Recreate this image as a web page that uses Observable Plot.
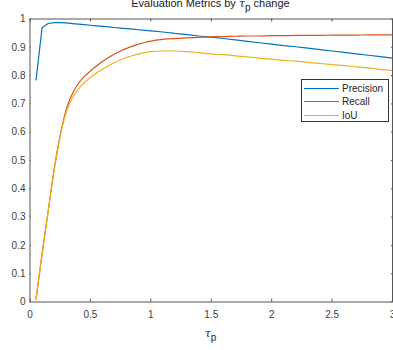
<!DOCTYPE html>
<html>
<head>
<meta charset="utf-8">
<script src="https://cdn.jsdelivr.net/npm/d3@7"></script>
<script src="https://cdn.jsdelivr.net/npm/@observablehq/plot@0.6"></script>
<style>
  html, body { margin: 0; padding: 0; background: #fff; }
  #wrap { position: relative; width: 393px; height: 350px; overflow: hidden; font-family: "Liberation Sans", Arial, Helvetica, sans-serif; }
  #title { position: absolute; left: 0; width: 421px; top: -3px; text-align: center; font-size: 11px; color: #1a1a1a; white-space: nowrap; }
  #xlabel { position: absolute; left: 0; width: 421px; top: 327px; text-align: center; font-size: 11px; color: #262626; }
  .tau { font-family: "DejaVu Serif", "Liberation Serif", serif; font-style: italic; }
  sub { font-size: 10px; vertical-align: -4px; line-height: 0; }
  #legend { position: absolute; left: 301px; top: 79px; width: 86px; height: 41px; border: 1px solid #333; background: #fff; font-size: 10px; color: #262626; }
  .row { position: absolute; left: 2px; height: 12px; display: flex; align-items: center; }
  .sw { width: 35px; height: 0; border-top: 1.2px solid; margin-right: 3px; }
</style>
</head>
<body>
<div id="wrap">
  <div id="chart"></div>
  <div id="title">Evaluation Metrics by <span class="tau">τ</span><sub>p</sub> change</div>
  <div id="xlabel"><span class="tau">τ</span><sub>p</sub></div>
  <div id="legend"></div>
</div>
<script>
const tau = [0.05,0.1,0.15,0.2,0.25,0.3,0.35,0.4,0.45,0.5,0.55,0.6,0.65,0.7,0.75,0.8,0.85,0.9,0.95,1.0,
  1.1,1.2,1.3,1.4,1.5,1.6,1.7,1.8,1.9,2.0,2.1,2.2,2.3,2.4,2.5,2.6,2.7,2.8,2.9,3.0];
const precision = [0.785,0.969,0.984,0.987,0.987,0.986,0.984,0.982,0.980,0.978,0.976,0.974,0.972,0.970,0.968,0.966,0.964,0.962,0.960,0.958,
  0.954,0.949,0.945,0.940,0.936,0.931,0.926,0.921,0.916,0.911,0.906,0.902,0.897,0.892,0.887,0.882,0.877,0.872,0.867,0.862];
const recall = [0.01,0.17,0.32,0.47,0.59,0.68,0.735,0.772,0.797,0.816,0.834,0.85,0.864,0.876,0.887,0.896,0.904,0.911,0.917,0.922,
  0.928,0.931,0.933,0.935,0.937,0.938,0.939,0.940,0.940,0.941,0.941,0.942,0.942,0.942,0.943,0.943,0.943,0.944,0.944,0.944];
const iou = [0.01,0.17,0.32,0.465,0.585,0.67,0.72,0.752,0.775,0.793,0.809,0.823,0.835,0.846,0.856,0.864,0.871,0.877,0.881,0.885,
  0.887,0.887,0.885,0.881,0.877,0.874,0.870,0.866,0.862,0.858,0.854,0.851,0.847,0.843,0.839,0.835,0.831,0.827,0.822,0.818];
const seriesNames = ["Precision", "Recall", "IoU"];
const seriesColors = ["#0072BD", "#D95319", "#EDB120"];
const xTicks = [0, 0.5, 1, 1.5, 2, 2.5, 3];
const yTicks = [0, 0.1, 0.2, 0.3, 0.4, 0.5, 0.6, 0.7, 0.8, 0.9, 1];

const seriesValues = [precision, recall, iou];
const rows = seriesNames.flatMap((name, i) => tau.map((t, j) => ({tau: t, value: seriesValues[i][j], series: name})));

const xIn = 3 / 362.5 * 3;   // ~3px inward tick in data units
const yIn = 3 / 283;

const chart = Plot.plot({
  width: 393,
  height: 350,
  marginTop: 18.5,
  marginRight: 1,
  marginBottom: 48.5,
  marginLeft: 29.5,
  style: {fontFamily: '"Liberation Sans", Arial, Helvetica, sans-serif', fontSize: "10px", background: "#fff", overflow: "visible"},
  x: {domain: [0, 3]},
  y: {domain: [0, 1]},
  color: {domain: seriesNames, range: seriesColors},
  marks: [
    Plot.line(rows.filter(d => d.series === "Precision"), {x: "tau", y: "value", stroke: "series", strokeWidth: 1.2}),
    Plot.line(rows.filter(d => d.series !== "Precision"), {x: "tau", y: "value", stroke: "series", z: "series", strokeWidth: 1.2, curve: "monotone-x"}),
    Plot.ruleX(xTicks, {x: d => d, y1: 0, y2: yIn, stroke: "#555", strokeWidth: 1}),
    Plot.ruleX(xTicks, {x: d => d, y1: 1 - yIn, y2: 1, stroke: "#555", strokeWidth: 1}),
    Plot.ruleY(yTicks, {y: d => d, x1: 0, x2: xIn / 3, stroke: "#555", strokeWidth: 1}),
    Plot.ruleY(yTicks, {y: d => d, x1: 3 - xIn / 3, x2: 3, stroke: "#555", strokeWidth: 1}),
    Plot.frame({stroke: "#555", strokeWidth: 1}),
    Plot.axisX({ticks: xTicks, tickSize: 0, tickPadding: 9, tickFormat: d => String(d), label: null, fill: "#404040", fontSize: 10}),
    Plot.axisY({ticks: yTicks, tickSize: 0, tickPadding: 4.5, tickFormat: d => String(d), label: null, fill: "#404040", fontSize: 10})
  ]
});
document.getElementById("chart").appendChild(chart);

const legend = document.getElementById("legend");
seriesNames.forEach((name, i) => {
  const row = document.createElement("div");
  row.className = "row";
  row.style.top = (2 + i * 13.5) + "px";
  const sw = document.createElement("span");
  sw.className = "sw";
  sw.style.borderTopColor = seriesColors[i];
  const tx = document.createElement("span");
  tx.textContent = name;
  row.appendChild(sw);
  row.appendChild(tx);
  legend.appendChild(row);
});
</script>
</body>
</html>
